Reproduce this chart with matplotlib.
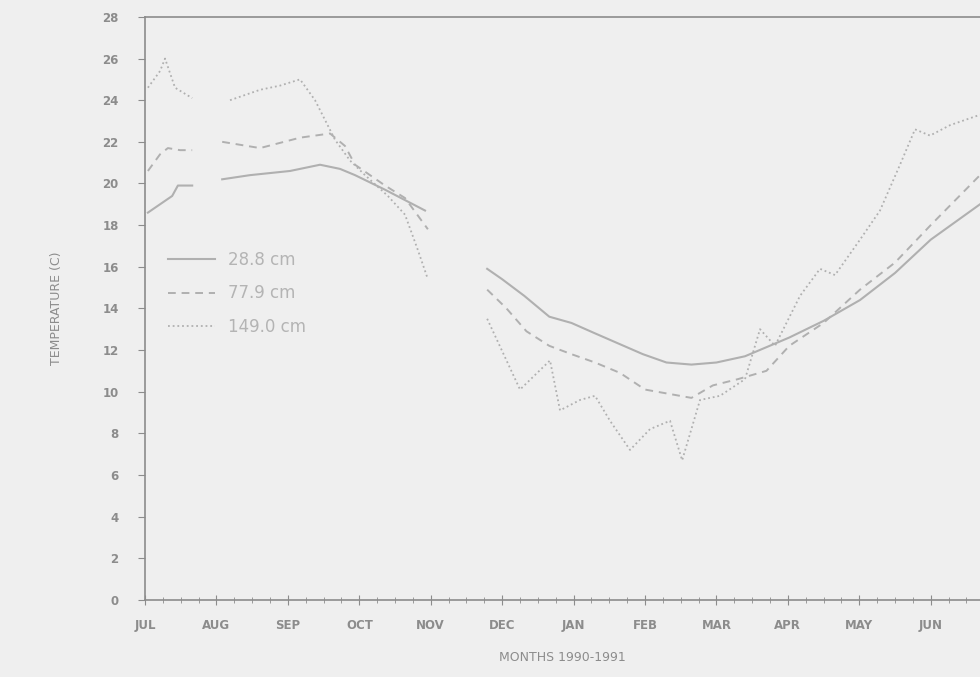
import numpy as np
import matplotlib.pyplot as plt
from matplotlib.ticker import MultipleLocator

# ── Data (x = months since 1 July 1990, y = temperature in C) ──────────────────
months = ["JUL", "AUG", "SEP", "OCT", "NOV", "DEC",
          "JAN", "FEB", "MAR", "APR", "MAY", "JUN"]
month_pos = np.arange(len(months))

# 28.8 cm depth
x_288 = [0.04, 0.21, 0.38, 0.46, 0.66, np.nan,
         1.08, 1.47, 2.03, 2.45, 2.73, 2.94, 3.36, 3.64, 3.92, np.nan,
         4.79, 5.00, 5.31, 5.66, 5.97, 6.30, 6.97, 7.30, 7.65, 8.00,
         8.40, 9.02, 9.50, 10.01, 10.50, 11.00, 11.69]
y_288 = [18.6, 19.0, 19.4, 19.9, 19.9, np.nan,
         20.2, 20.4, 20.6, 20.9, 20.7, 20.4, 19.7, 19.2, 18.7, np.nan,
         15.9, 15.4, 14.6, 13.6, 13.3, 12.8, 11.8, 11.4, 11.3, 11.4,
         11.7, 12.6, 13.4, 14.4, 15.7, 17.3, 19.0]

# 77.9 cm depth
x_779 = [0.04, 0.21, 0.32, 0.49, 0.66, np.nan,
         1.08, 1.61, 2.17, 2.59, 2.80, 2.94, 3.36, 3.64, 3.96, np.nan,
         4.79, 5.06, 5.34, 5.66, 5.97, 6.30, 6.65, 7.00, 7.65, 7.95,
         8.30, 8.70, 9.02, 9.50, 10.01, 10.50, 11.00, 11.69]
y_779 = [20.6, 21.4, 21.7, 21.6, 21.6, np.nan,
         22.0, 21.7, 22.2, 22.4, 21.8, 20.9, 19.9, 19.3, 17.8, np.nan,
         14.9, 14.0, 12.9, 12.2, 11.8, 11.4, 10.9, 10.1, 9.7, 10.3,
         10.6, 11.0, 12.2, 13.3, 14.9, 16.2, 18.0, 20.4]

# 149.0 cm depth
x_1490 = [0.04, 0.21, 0.28, 0.42, 0.66, np.nan,
          1.19, 1.61, 1.89, 2.17, 2.38, 2.66, 2.87, 3.08, 3.40, 3.64,
          3.82, 3.96, np.nan,
          4.79, 5.25, 5.67, 5.81, 6.09, 6.30, 6.51, 6.79, 7.07, 7.35,
          7.52, 7.77, 8.05, 8.40, 8.61, 8.82, 9.17, 9.45, 9.66, 10.01,
          10.29, 10.57, 10.78, 10.99, 11.27, 11.69]
y_1490 = [24.6, 25.4, 26.0, 24.6, 24.1, np.nan,
          24.0, 24.5, 24.7, 25.0, 24.0, 22.1, 21.1, 20.4, 19.4, 18.5,
          16.8, 15.4, np.nan,
          13.5, 10.1, 11.5, 9.1, 9.6, 9.8, 8.6, 7.2, 8.2, 8.6,
          6.7, 9.6, 9.8, 10.6, 13.0, 12.2, 14.6, 15.9, 15.6, 17.3,
          18.7, 20.9, 22.6, 22.3, 22.8, 23.3]

labels = ["28.8 cm", "77.9 cm", "149.0 cm"]

# ── Plot ───────────────────────────────────────────────────────────────────────
bg = "#efefef"
ink = "#8c8c8c"
line_col = "#b0b0b0"

fig = plt.figure(figsize=(9.8, 6.77), dpi=100, facecolor=bg)
ax = fig.add_axes([0.148, 0.114, 0.852, 0.861])
ax.set_facecolor(bg)

ax.plot(x_288, y_288, color=line_col, lw=1.5, ls="-", label=labels[0])
ax.plot(x_779, y_779, color=line_col, lw=1.4, ls=(0, (4, 3)), label=labels[1])
ax.plot(x_1490, y_1490, color=line_col, lw=1.3, ls=(0, (1, 1.6)), label=labels[2])

ax.set_xlim(0, 11.69)
ax.set_ylim(0, 28)

ax.set_xticks(month_pos)
ax.set_xticklabels(months, fontweight="bold")
ax.xaxis.set_minor_locator(MultipleLocator(0.25))
ax.set_yticks(np.arange(0, 29, 2))
ax.set_yticklabels([str(v) for v in range(0, 29, 2)], fontweight="bold")

ax.tick_params(axis="x", which="major", direction="inout", length=7,
               width=0.8, colors=ink, labelsize=8.5, pad=10)
ax.tick_params(axis="x", which="minor", direction="inout", length=4,
               width=0.6, colors=ink)
ax.tick_params(axis="y", direction="out", length=5, width=0.8,
               colors=ink, labelsize=8.5, pad=14)

for side in ["left", "bottom", "top"]:
    ax.spines[side].set_color(ink)
    ax.spines[side].set_linewidth(1.2)
ax.spines["top"].set_linestyle((0, (8, 1)))
ax.spines["right"].set_visible(False)

ax.set_xlabel("MONTHS 1990-1991", color=ink, fontsize=9, labelpad=14)
ax.set_ylabel("TEMPERATURE (C)", color=ink, fontsize=9, labelpad=28)

leg = ax.legend(loc="upper left", bbox_to_anchor=(0.01, 0.625), frameon=False,
                fontsize=12, handlelength=2.8, labelspacing=0.95)
for t in leg.get_texts():
    t.set_color("#b4b4b4")

fig.savefig("out.png", dpi=100, facecolor=bg)
